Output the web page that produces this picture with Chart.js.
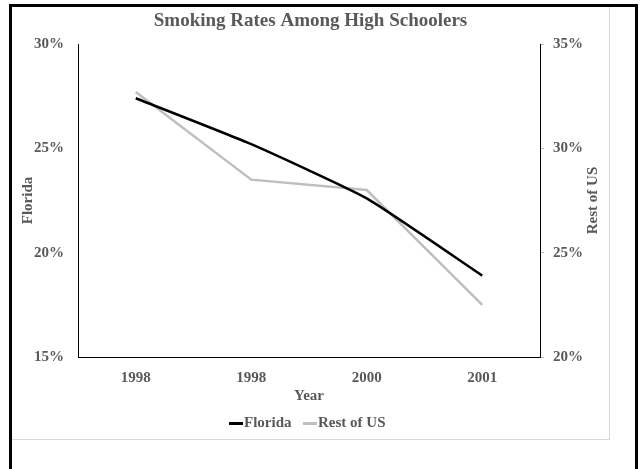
<!DOCTYPE html>
<html>
<head>
<meta charset="utf-8">
<script src="https://cdn.jsdelivr.net/npm/chart.js@4"></script>
<style>
  html, body { margin: 0; padding: 0; background: #fff; overflow: hidden; }
  #frame { position: absolute; left: 9px; top: 4px; width: 623px; height: 600px; border: 3px solid #000; }
  #panel { position: absolute; left: 0; top: 0; width: 597px; height: 432px;
           border-right: 1px solid #d9d9d9; border-bottom: 1px solid #d9d9d9; }
  canvas { display: block; }
</style>
</head>
<body>
<div id="frame">
  <div id="panel"><canvas id="chart" width="597" height="432"></canvas></div>
</div>
<script>
// Survey years shown on the category axis
const years = ['1998', '1998', '2000', '2001'];
// Share of high schoolers who smoke, in percent
const floridaRates = [27.4, 25.2, 22.6, 18.9];
const restOfUsRates = [32.7, 28.5, 28.0, 22.5];
// Axis tick values (percent)
const floridaAxisTicks = [15, 20, 25, 30];
const restOfUsAxisTicks = [20, 25, 30, 35];

const FONT = "'Liberation Serif', 'Times New Roman', serif";
const TEXT = '#595959';
const LABEL_FONT = { family: FONT, size: 15, weight: 'bold' };

// Short horizontal stroke used as the legend marker
function legendStroke(color) {
  const c = document.createElement('canvas');
  c.width = 14; c.height = 3;
  const g = c.getContext('2d');
  g.fillStyle = color;
  g.fillRect(0, 0, 14, 3);
  return c;
}

// Right-hand axis title, written bottom-to-top like the left one
const rightAxisTitle = {
  id: 'rightAxisTitle',
  afterDraw(chart) {
    const s = chart.scales.yRest;
    const ctx = chart.ctx;
    ctx.save();
    ctx.font = 'bold 15px ' + FONT;
    ctx.fillStyle = TEXT;
    ctx.textAlign = 'center';
    ctx.textBaseline = 'middle';
    ctx.translate(s.right - 16, (s.top + s.bottom) / 2);
    ctx.rotate(-Math.PI / 2);
    ctx.fillText('Rest of US', 0, 0);
    ctx.restore();
  }
};

const pct = v => v + '%';

new Chart(document.getElementById('chart'), {
  type: 'line',
  data: {
    labels: years,
    datasets: [
      { label: 'Florida', data: floridaRates, yAxisID: 'yFlorida',
        borderColor: '#000000', backgroundColor: '#000000', borderWidth: 2.5,
        pointRadius: 0, tension: 0.15, fill: false },
      { label: 'Rest of US', data: restOfUsRates, yAxisID: 'yRest',
        borderColor: '#bfbfbf', backgroundColor: '#bfbfbf', borderWidth: 2.5,
        pointRadius: 0, tension: 0, fill: false }
    ]
  },
  options: {
    responsive: false,
    animation: false,
    devicePixelRatio: 1,
    layout: { padding: { top: 0, left: 0, right: 0, bottom: -2 } },
    plugins: {
      title: {
        display: true, text: 'Smoking Rates Among High Schoolers', color: TEXT,
        font: { family: FONT, size: 19, weight: 'bold' }, padding: { top: 2.4, bottom: 11.8 }
      },
      legend: {
        position: 'bottom',
        labels: {
          color: TEXT, font: LABEL_FONT,
          usePointStyle: true, pointStyleWidth: 1, padding: 18,
          generateLabels(chart) {
            return Chart.defaults.plugins.legend.labels.generateLabels(chart).map((l, i) =>
              Object.assign(l, { pointStyle: legendStroke(chart.data.datasets[i].borderColor), rotation: 0, lineWidth: 0 }));
          }
        }
      },
      tooltip: { enabled: false }
    },
    scales: {
      x: {
        offset: true,
        grid: { display: false, drawTicks: false },
        border: { display: true, color: '#000000', width: 1 },
        ticks: { color: TEXT, font: LABEL_FONT, padding: 12, maxRotation: 0 },
        title: { display: true, text: 'Year', color: TEXT, font: LABEL_FONT, padding: { top: 0, bottom: -7 } },
        afterFit(s) { s.height = 41; }
      },
      yFlorida: {
        position: 'left',
        min: floridaAxisTicks[0], max: floridaAxisTicks[floridaAxisTicks.length - 1],
        afterBuildTicks(s) { s.ticks = floridaAxisTicks.map(v => ({ value: v })); },
        ticks: { color: TEXT, font: LABEL_FONT, padding: 14, callback: pct },
        grid: { display: false, drawTicks: false },
        border: { display: true, color: '#000000', width: 1 },
        title: { display: true, text: 'Florida', color: TEXT, font: LABEL_FONT, padding: { top: 7, bottom: 0 } },
        afterFit(s) { s.width = 66; }
      },
      yRest: {
        position: 'right',
        min: restOfUsAxisTicks[0], max: restOfUsAxisTicks[restOfUsAxisTicks.length - 1],
        afterBuildTicks(s) { s.ticks = restOfUsAxisTicks.map(v => ({ value: v })); },
        ticks: { color: TEXT, font: LABEL_FONT, padding: 9, callback: pct },
        grid: { display: true, drawOnChartArea: false, drawTicks: true, tickLength: 4, color: '#bfbfbf' },
        border: { display: true, color: '#000000', width: 1 },
        afterFit(s) { s.width = 69; }
      }
    }
  },
  plugins: [rightAxisTitle]
});
</script>
</body>
</html>
